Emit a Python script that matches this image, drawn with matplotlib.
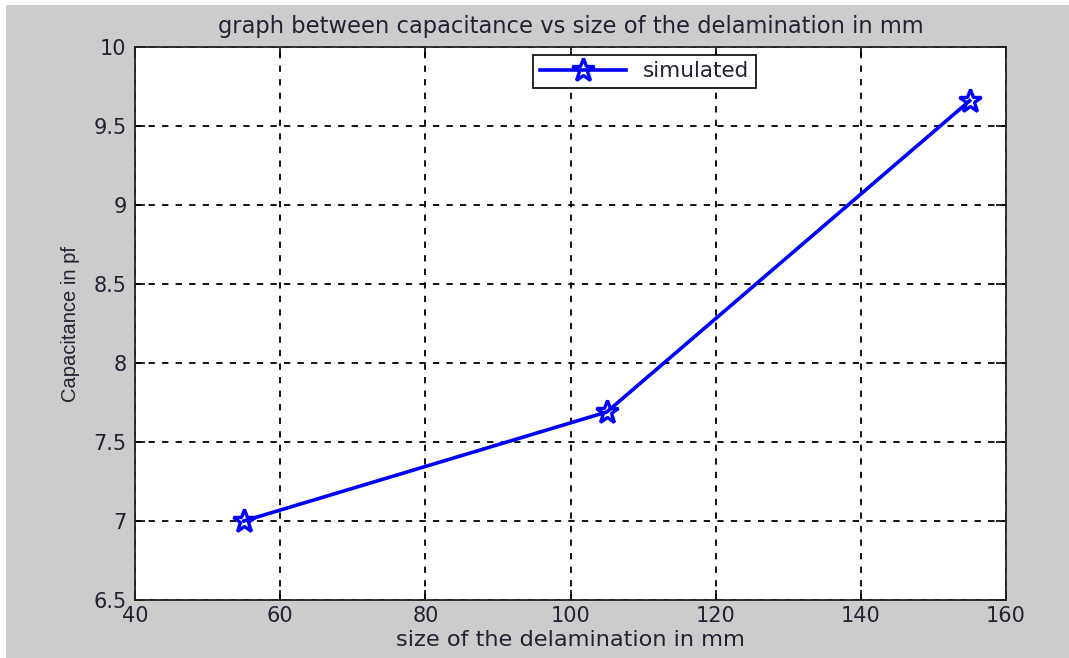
import matplotlib
matplotlib.use("Agg")
import matplotlib.pyplot as plt
from matplotlib.patches import Rectangle

size_mm = [55, 105, 155]
capacitance_pf = [7.0, 7.69, 9.66]
xticks = [40, 60, 80, 100, 120, 140, 160]
yticks = [6.5, 7, 7.5, 8, 8.5, 9, 9.5, 10]
ytick_labels = ["6.5", "7", "7.5", "8", "8.5", "9", "9.5", "10"]

plt.rcParams['font.family'] = ['DejaVu Sans']

fig = plt.figure(figsize=(10.69, 6.58), dpi=100, facecolor='white')
fig.patches.append(Rectangle((6/1069, 0), 1 - 6/1069, 1 - 5/658, transform=fig.transFigure,
                             facecolor='#cccccc', edgecolor='none', zorder=-10))
ax = fig.add_axes([135/1069, 1 - 600/658, 871/1069, 553/658])
ax.set_facecolor('white')

ax.plot(size_mm, capacitance_pf, color='#0000ff', linewidth=2.6, marker='*',
        markersize=17, markerfacecolor='none', markeredgewidth=2.4, label='simulated')

ax.set_xlim(40, 160)
ax.set_ylim(6.5, 10)
ax.set_xticks(xticks)
ax.set_yticks(yticks)
ax.set_yticklabels(ytick_labels)
ax.tick_params(direction='in', top=True, right=True, labelsize=15, length=7, width=1.2, pad=4,
               labelcolor='#222233')
ax.tick_params(axis='y', pad=6)
ax.grid(True, color='black', linestyle=(0, (3.5, 4)), linewidth=1.3)
for s in ax.spines.values():
    s.set_linewidth(1.3)
    s.set_color('#222222')

ax.set_title('graph between capacitance vs size of the delamination in mm', fontsize=16.3, pad=10,
             color='#222233')
ax.set_xlabel('size of the delamination in mm', fontsize=16.2, labelpad=3, color='#222233')
ax.set_ylabel('Capacitance in pf', fontsize=14.5, labelpad=10, color='#222233',
              family='Liberation Sans')

leg = ax.legend(loc='upper left', bbox_to_anchor=(0.457, 0.986), fontsize=15.5, fancybox=False,
                framealpha=1, edgecolor='black', borderpad=0.3, handlelength=4.0,
                borderaxespad=0, handletextpad=0.8)
leg.get_frame().set_linewidth(1.2)
for t in leg.get_texts():
    t.set_color('#222233')

fig.savefig('out.png', dpi=100, facecolor=fig.get_facecolor())
